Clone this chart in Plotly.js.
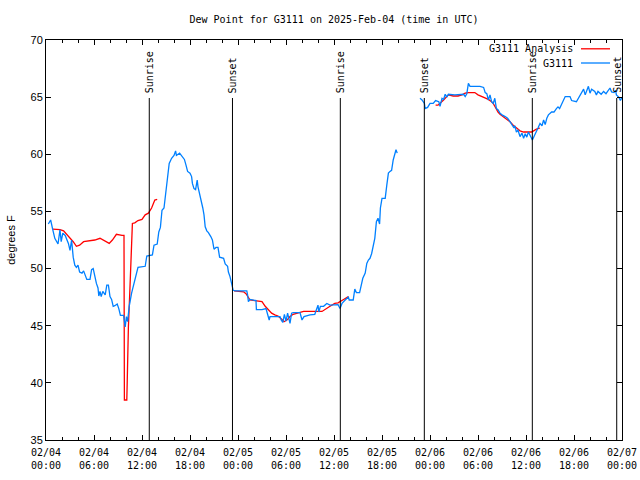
<!DOCTYPE html>
<html>
<head>
<meta charset="utf-8">
<script src="https://cdn.plot.ly/plotly-3.0.1.min.js"></script>
<style>html,body{margin:0;padding:0;background:#fff;}#chart{width:640px;height:480px;}</style>
</head>
<body>
<div id="chart"></div>
<script>
// Hours since 2025-02-04 00:00 UTC
const stationHours = [
0.29,0.58,0.83,1.1,1.5,1.75,1.9,2.1,2.4,2.6,2.8,3.0,3.2,3.4,3.6,3.8,4.0,4.2,4.5,4.7,5.1,5.5,5.7,5.9,6.1,6.3,6.5,6.6,6.75,6.9,7.1,7.4,7.6,7.8,8.0,8.2,8.4,8.6,8.9,9.1,9.3,9.7,9.9,10.05,10.2,10.4,10.7,11.1,11.5,12.4,12.6,13.3,13.5,13.9,14.1,14.3,14.5,14.75,14.95,15.2,15.4,15.7,16.0,16.2,16.3,16.7,17.0,17.3,17.5,17.7,18.0,18.2,18.3,18.5,18.7,18.9,19.0,19.2,19.4,19.6,19.75,19.9,20.1,20.3,20.6,20.8,21.0,21.25,21.5,21.7,22.2,22.4,22.7,22.8,23.0,23.2,23.4,23.7,25.1,25.2,25.3,25.5,26.25,26.3,27.0,27.5,27.9,28.0,29.25,29.4,29.6,29.8,30.0,30.2,30.5,30.7,30.9,31.75,32.0,32.25,33.0,33.6,33.8,34.0,34.1,34.3,34.7,35.1,35.5,36.1,36.5,36.75,37.0,37.4,37.6,37.8,37.9,38.4,38.6,38.8,39.2,39.4,39.6,39.9,40.1,40.3,40.5,40.7,40.9,41.1,41.3,41.5,41.7,41.8,42.0,42.4,42.6,42.8,43.0,43.2,43.4,43.6,43.75,43.9,
45.0,
46.75,47.0,47.3,47.4,47.7,48.0,48.4,48.7,49.1,49.25,49.5,49.7,49.9,50.1,50.3,51.1,52.2,52.4,52.6,52.8,53.0,54.25,54.7,54.9,55.1,55.3,55.5,55.7,55.9,56.1,56.3,56.5,56.75,57.0,57.4,57.7,58.0,58.3,58.5,58.6,58.8,59.0,59.25,59.5,59.7,59.9,60.1,60.3,60.5,60.8,61.0,61.3,61.5,61.75,62.0,62.2,62.4,62.6,62.8,63.2,63.5,63.8,64.0,64.2,64.5,64.7,64.9,65.5,65.7,66.3,66.75,67.0,67.2,67.4,67.6,67.8,68.0,68.2,68.6,68.8,69.0,69.4,69.7,70.0,70.2,70.5,70.7,71.0,71.2,71.3,71.6,71.8,72.0
];
const stationDewPoint = [
53.9,54.25,53.45,52.65,52.15,53.4,52.35,53.1,52.9,52.6,52.2,51.6,52.5,51.0,50.3,50.1,50.3,49.7,49.6,49.8,49.05,49.05,49.9,50.0,49.3,48.7,48.3,47.6,48.0,47.55,48.0,47.7,48.55,48.55,47.55,47.3,46.7,46.75,46.9,46.5,45.9,45.9,44.9,45.8,45.35,46.7,47.85,49.0,50.1,50.2,51.1,51.2,52.05,52.15,53.2,53.6,55.1,55.3,56.7,58.3,59.2,59.65,59.9,60.3,59.9,60.1,59.85,59.55,59.05,58.5,58.35,58.05,57.45,57.0,56.9,57.75,57.15,56.6,55.85,55.3,54.7,53.65,53.3,53.15,52.8,52.5,51.7,51.85,51.85,51.0,50.9,50.4,50.2,49.7,49.3,48.55,48.1,48.05,48.05,47.7,47.1,47.3,47.2,46.4,46.4,46.5,45.5,45.8,45.8,45.5,45.3,46.0,45.4,46.1,45.2,46.1,46.15,46.15,45.5,45.8,45.95,46.0,46.4,46.8,46.2,46.7,46.7,46.95,46.8,46.85,46.85,46.5,46.95,47.25,47.4,47.5,47.25,47.25,48.2,47.9,47.9,48.7,49.15,49.6,50.45,50.75,50.9,51.3,52.05,52.65,54.1,54.4,53.9,55.3,56.15,56.15,57.3,58.35,58.5,58.6,59.5,60.2,60.4,60.1,
null,
64.9,64.75,64.45,64.0,64.1,64.45,64.45,64.7,64.6,64.2,64.9,64.8,65.25,65.0,65.25,65.2,65.25,65.05,65.3,66.2,65.95,65.95,65.85,65.4,65.3,64.75,65.2,64.6,64.45,64.9,64.0,63.9,63.6,63.45,63.3,63.15,62.85,62.55,62.3,62.5,61.95,62.1,61.55,61.85,61.4,61.8,61.5,61.95,61.7,61.25,61.55,61.95,62.3,62.7,62.5,63.0,62.6,63.15,63.45,63.7,63.7,64.0,64.15,64.0,64.45,64.75,65.05,65.05,64.7,64.6,65.2,65.4,65.7,65.2,65.5,65.95,65.35,65.7,65.5,65.2,65.5,65.25,65.5,65.3,65.5,65.8,65.45,65.4,65.6,65.2,65.0,64.7,65.0
];
const analysisHours = [
0.83,1.75,2.2,2.8,3.1,3.4,3.8,4.2,4.7,5.5,6.1,6.75,7.1,7.6,7.9,8.3,8.8,9.5,9.75,9.8,10.1,10.15,10.2,10.3,10.45,10.6,10.7,10.8,11.1,11.5,12.0,12.4,12.8,13.2,13.6,13.9,
18.0,
23.5,24.7,25.0,25.3,25.5,26.1,27.0,27.4,27.8,28.2,28.6,29.0,29.5,29.75,30.2,30.5,30.9,31.75,32.2,34.5,34.9,35.5,36.1,36.5,37.2,37.6,37.8,
43.0,
48.7,49.0,49.7,50.0,50.3,50.9,51.5,52.0,52.4,52.8,53.6,54.0,54.5,54.9,55.3,55.7,55.9,56.1,56.3,56.5,56.75,57.4,57.7,58.0,58.4,58.8,59.25,59.7,60.7,61.3,61.75
];
const analysisDewPoint = [
53.45,53.4,53.3,52.8,52.65,52.35,51.95,52.05,52.35,52.45,52.5,52.65,52.5,52.35,52.2,52.5,53.0,52.9,52.9,38.5,38.5,40.0,42.3,44.9,47.5,49.9,52.5,53.95,54.0,54.2,54.3,54.7,54.85,55.3,56.0,56.05,
null,
48.05,47.97,47.8,47.4,47.25,47.2,47.1,46.7,46.4,46.1,45.95,45.85,45.55,45.35,45.55,45.8,46.0,46.15,46.25,46.25,46.45,46.7,46.95,47.0,47.3,47.5,47.55,
null,
64.3,64.3,64.75,65.0,65.2,65.1,65.1,65.2,65.35,65.4,65.4,65.2,65.05,64.9,64.8,64.6,64.45,64.2,63.9,63.7,63.5,63.15,63.0,62.85,62.55,62.3,62.05,61.95,61.95,62.2,62.3
];
const sunriseHours = [12.91, 36.79, 60.79];
const sunsetHours = [23.31, 47.29, 71.34];
const tickHours = [0, 6, 12, 18, 24, 30, 36, 42, 48, 54, 60, 66, 72];
const tickLabels = ["02/04<br>00:00","02/04<br>06:00","02/04<br>12:00","02/04<br>18:00","02/05<br>00:00","02/05<br>06:00","02/05<br>12:00","02/05<br>18:00","02/06<br>00:00","02/06<br>06:00","02/06<br>12:00","02/06<br>18:00","02/07<br>00:00"];
const yTicks = [35, 40, 45, 50, 55, 60, 65, 70];
const seriesNames = ["G3111 Analysis", "G3111"];
const seriesColors = ["#ff0000", "#0080ff"];

const mono = "DejaVu Sans Mono, Liberation Mono, monospace";
const sans = "Liberation Sans, Arial, sans-serif";

const traces = [
  {x: analysisHours, y: analysisDewPoint, type: "scatter", mode: "lines", name: seriesNames[0],
   line: {color: seriesColors[0], width: 1.3}, connectgaps: false},
  {x: stationHours, y: stationDewPoint, type: "scatter", mode: "lines", name: seriesNames[1],
   line: {color: seriesColors[1], width: 1.3}, connectgaps: false}
];

const shapes = [];
const annotations = [];
const lineTop = 0.855;
function addEvent(h, label) {
  shapes.push({type: "line", xref: "x", yref: "paper", x0: h, x1: h, y0: 0, y1: lineTop,
    line: {color: "#000", width: 1}});
  annotations.push({x: h, xref: "x", y: lineTop, yref: "paper", text: label, showarrow: false,
    textangle: -90, xanchor: "center", yanchor: "bottom", yshift: 3,
    font: {family: mono, size: 10, color: "#000"}});
}
sunriseHours.forEach(h => addEvent(h, "Sunrise"));
sunsetHours.forEach(h => addEvent(h, "Sunset"));

// legend (text right, line sample to the right)
const legY = [0.978, 0.9425];
seriesNames.forEach((n, i) => {
  annotations.push({x: 0.9184, xref: "paper", y: legY[i], yref: "paper", text: n, showarrow: false,
    xanchor: "right", yanchor: "middle", font: {family: mono, size: 10, color: "#000"}});
  shapes.push({type: "line", xref: "paper", yref: "paper", x0: 0.9288, x1: 0.9792, y0: legY[i], y1: legY[i],
    line: {color: seriesColors[i], width: 1.3}});
});

const layout = {
  width: 640, height: 480,
  margin: {l: 46, r: 18, t: 40, b: 40},
  paper_bgcolor: "#fff", plot_bgcolor: "#fff",
  showlegend: false,
  title: {text: "Dew Point for G3111 on 2025-Feb-04 (time in UTC)", x: 0.5, xref: "paper",
    y: 0.9604, yref: "container", yanchor: "middle",
    font: {family: mono, size: 10, color: "#000"}},
  xaxis: {range: [0, 72], tickvals: tickHours, ticktext: tickLabels, ticks: "inside", ticklen: 5,
    tickcolor: "#000", showline: true, linecolor: "#000", linewidth: 1, mirror: "allticks",
    showgrid: false, zeroline: false, tickfont: {family: mono, size: 10, color: "#000"},
    ticklabelstandoff: 3,
    minor: {dtick: 2, tick0: 0, ticks: "inside", ticklen: 3, tickcolor: "#000", showgrid: false}},
  yaxis: {range: [35, 70], tickvals: yTicks, ticks: "inside", ticklen: 5, tickcolor: "#000",
    showline: true, linecolor: "#000", linewidth: 1, mirror: "allticks", showgrid: false, zeroline: false,
    tickfont: {family: sans, size: 11, color: "#000"},
    title: {text: "degrees F", font: {family: sans, size: 11, color: "#000"}, standoff: 12}},
  shapes: shapes,
  annotations: annotations
};

Plotly.newPlot("chart", traces, layout, {displayModeBar: false, staticPlot: true});
</script>
</body>
</html>
